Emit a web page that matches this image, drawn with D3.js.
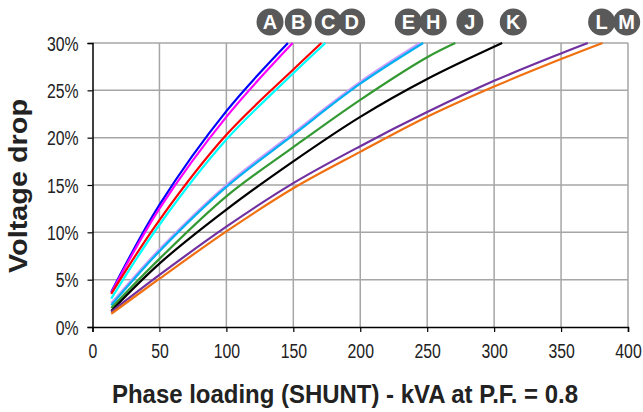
<!DOCTYPE html>
<html lang="en">
  <head>
    <meta charset="utf-8" />
    <title>Voltage drop</title>
    <script src="https://cdn.jsdelivr.net/npm/d3@7"></script>
    <style>
      body { margin: 0; background: #fff; }
      text { font-family: "Liberation Sans", Arial, sans-serif; }
    </style>
  </head>
  <body>
    <script>
      // curve data: [kVA, % drop]
      var names = ["A", "B", "C", "D", "E", "H", "J", "K", "L", "M"];
      var colors = ["#0000ff", "#ff00ff", "#ff0000", "#00ffff", "#cc99ff",
                    "#00b0f0", "#339933", "#000000", "#7030a0", "#f07010"];
      var curveA = [[14, 3.7], [50, 12.9], [100, 22.8], [146, 30]];
      var curveB = [[14, 3.6], [50, 12.5], [100, 22.2], [149.5, 30]];
      var curveC = [[14, 3.5], [50, 11.3], [100, 20.3], [150, 27.2], [171, 30]];
      var curveD = [[14, 3.0], [50, 10.8], [100, 19.8], [150, 26.8], [174, 30]];
      var curveE = [[14, 2.5], [50, 8.2], [100, 15.0], [150, 20.5], [200, 25.9], [244.5, 30]];
      var curveH = [[14, 2.3], [50, 8.0], [100, 14.8], [150, 20.3], [200, 25.7], [247, 30]];
      var curveJ = [[14, 2.0], [50, 7.2], [100, 13.8], [150, 19.0], [200, 24.0], [250, 28.5], [271, 30]];
      var curveK = [[14, 1.7], [50, 6.7], [100, 12.4], [150, 17.5], [200, 22.2], [250, 26.2], [306, 30]];
      var curveL = [[14, 1.6], [50, 5.5], [100, 10.6], [150, 15.2], [200, 19.1], [250, 22.7], [300, 26.0], [350, 28.9], [370, 30]];
      var curveM = [[14, 1.4], [50, 5.1], [100, 10.1], [150, 14.65], [200, 18.5], [250, 22.2], [300, 25.4], [350, 28.3], [381, 30]];
      var curves = [curveA, curveB, curveC, curveD, curveE, curveH, curveJ, curveK, curveL, curveM];
      // x position (kVA) of each letter badge above the chart
      var labelX = [132.6, 153.7, 176.1, 193.6, 235.9, 254.5, 281.9, 314.3, 380.3, 399];
      var xTicks = [0, 50, 100, 150, 200, 250, 300, 350, 400];
      var yTicks = [0, 5, 10, 15, 20, 25, 30];

      var w = 643;
      var h = 412;
      var plotLeft = 92.5, plotRight = 628, plotTop = 43, plotBottom = 327;

      var x = d3.scaleLinear().domain([0, 400]).range([plotLeft, plotRight]);
      var y = d3.scaleLinear().domain([0, 30]).range([plotBottom, plotTop]);

      var svg = d3.select("body").append("svg")
        .attr("width", w)
        .attr("height", h);

      // grid
      svg.append("g").selectAll("line")
        .data(xTicks.slice(1))
        .enter().append("line")
        .attr("x1", function (d) { return x(d); })
        .attr("x2", function (d) { return x(d); })
        .attr("y1", plotTop)
        .attr("y2", plotBottom)
        .attr("stroke", "#a6a6a6")
        .attr("stroke-width", 1.5);

      svg.append("g").selectAll("line")
        .data(yTicks.slice(1))
        .enter().append("line")
        .attr("x1", plotLeft)
        .attr("x2", plotRight)
        .attr("y1", function (d) { return y(d); })
        .attr("y2", function (d) { return y(d); })
        .attr("stroke", "#a6a6a6")
        .attr("stroke-width", 1.5);

      // axes
      var xAxis = svg.append("g")
        .attr("transform", "translate(0," + plotBottom + ")")
        .call(d3.axisBottom(x).tickValues(xTicks).tickSize(5).tickPadding(12));
      var yAxis = svg.append("g")
        .attr("transform", "translate(" + plotLeft + ",0)")
        .call(d3.axisLeft(y).tickValues(yTicks).tickSize(5).tickPadding(9)
          .tickFormat(function (d) { return d + "%"; }));

      [xAxis, yAxis].forEach(function (a) {
        a.select(".domain").attr("stroke", "#000").attr("stroke-width", 1.5);
        a.selectAll(".tick line").attr("stroke", "#000").attr("stroke-width", 1.2);
        a.selectAll(".tick text")
          .attr("font-size", "20px")
          .attr("fill", "#222")
          .attr("font-family", null)
          .each(function () {
            // squeeze to look like the narrow face of the original
            var len = this.getComputedTextLength();
            d3.select(this).attr("textLength", len * 0.79).attr("lengthAdjust", "spacingAndGlyphs");
          });
      });
      yAxis.selectAll(".tick text").attr("dy", "0.35em");

      // curves
      var line = d3.line()
        .x(function (d) { return x(d[0]); })
        .y(function (d) { return y(d[1]); })
        .curve(d3.curveCatmullRom.alpha(0.5));

      svg.append("g").selectAll("path")
        .data(curves)
        .enter().append("path")
        .attr("d", line)
        .attr("fill", "none")
        .attr("stroke", function (d, i) { return colors[i]; })
        .attr("stroke-width", 2.2);

      // letter badges
      var badges = svg.append("g").selectAll("g")
        .data(names)
        .enter().append("g")
        .attr("transform", function (d, i) { return "translate(" + x(labelX[i]) + ",22)"; });
      badges.append("circle")
        .attr("r", 13.5)
        .attr("fill", "#595959");
      badges.append("text")
        .text(function (d) { return d; })
        .attr("text-anchor", "middle")
        .attr("dy", "0.36em")
        .attr("font-size", "20px")
        .attr("font-weight", "bold")
        .attr("fill", "#fff");

      // titles
      svg.append("text")
        .text("Phase loading (SHUNT) - kVA at P.F. = 0.8")
        .attr("x", 345)
        .attr("y", 403)
        .attr("text-anchor", "middle")
        .attr("font-size", "25px")
        .attr("font-weight", "bold")
        .attr("textLength", 466)
        .attr("lengthAdjust", "spacingAndGlyphs")
        .attr("fill", "#222");

      svg.append("text")
        .text("Voltage drop")
        .attr("transform", "translate(27,186) rotate(-90)")
        .attr("text-anchor", "middle")
        .attr("font-size", "25px")
        .attr("font-weight", "bold")
        .attr("textLength", 174)
        .attr("lengthAdjust", "spacingAndGlyphs")
        .attr("fill", "#222");
    </script>
  </body>
</html>
